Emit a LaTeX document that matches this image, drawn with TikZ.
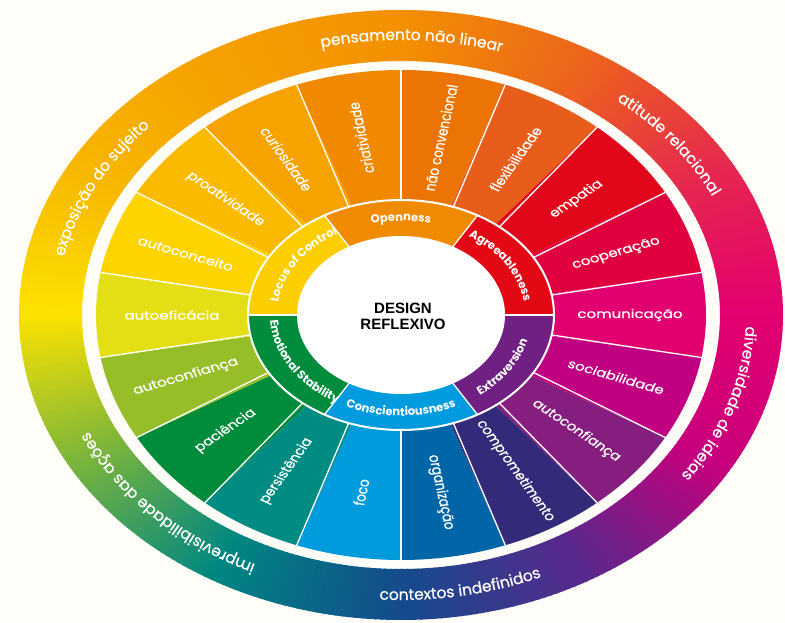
\documentclass[tikz,border=0pt]{standalone}
\usepackage{fontspec}
\setmainfont{Poppins}
\newfontfamily\labfont{Poppins}[FakeBold=0.6]
\newfontfamily\headfont{Liberation Sans}
\usetikzlibrary{decorations.text}

\begin{document}
\begin{tikzpicture}[
  x=1pt,y=1pt,
  seglab/.style={text=white,inner sep=0pt,font=\labfont\fontsize{15}{15}\selectfont},
  sep/.style={draw=white,line width=1.3pt},
  arclab/.style={decorate,decoration={text along path,text align=center,text color=white}}]

  \definecolor{paper}{RGB}{254,253,248}
  % outer band, one stop every 30 degrees
  \definecolor{ring0}{RGB}{228,0,112}
  \definecolor{ring30}{RGB}{230,40,78}
  \definecolor{ring60}{RGB}{236,100,28}
  \definecolor{ring90}{RGB}{243,144,0}
  \definecolor{ring120}{RGB}{245,160,0}
  \definecolor{ring150}{RGB}{247,182,0}
  \definecolor{ring180}{RGB}{252,226,0}
  \definecolor{ringm150}{RGB}{120,180,60}
  \definecolor{ringm120}{RGB}{0,135,130}
  \definecolor{ringm90}{RGB}{20,75,140}
  \definecolor{ringm60}{RGB}{90,40,140}
  \definecolor{ringm30}{RGB}{200,0,125}
  % traits
  \definecolor{openc}{RGB}{240,138,0}
  \definecolor{agreec}{RGB}{226,8,20}
  \definecolor{extrac}{RGB}{112,32,130}
  \definecolor{consc}{RGB}{0,155,222}
  \definecolor{emotc}{RGB}{0,140,60}
  \definecolor{locusc}{RGB}{252,206,0}
  % skills
  \definecolor{criat}{RGB}{241,137,0}
  \definecolor{naoconv}{RGB}{236,116,4}
  \definecolor{flex}{RGB}{232,93,26}
  \definecolor{empat}{RGB}{226,6,26}
  \definecolor{coop}{RGB}{224,0,62}
  \definecolor{comun}{RGB}{226,0,112}
  \definecolor{socia}{RGB}{192,0,128}
  \definecolor{autoconfB}{RGB}{134,30,128}
  \definecolor{compro}{RGB}{52,42,122}
  \definecolor{organ}{RGB}{0,102,168}
  \definecolor{foco}{RGB}{0,155,220}
  \definecolor{persist}{RGB}{0,140,130}
  \definecolor{pacien}{RGB}{0,140,58}
  \definecolor{autoconfA}{RGB}{150,190,40}
  \definecolor{autoefic}{RGB}{228,222,20}
  \definecolor{autoconc}{RGB}{253,212,0}
  \definecolor{proativ}{RGB}{250,186,0}
  \definecolor{curios}{RGB}{246,162,0}

  \useasboundingbox (0,0) rectangle (785,623);
  \fill[paper] (0,0) rectangle (785,623);

  \begin{scope}[shift={(401,308)}]
  % ================= outer band =================
  \foreach \a/\ca/\cb in {-180/ring180/ringm150,-150/ringm150/ringm120,-120/ringm120/ringm90,
      -90/ringm90/ringm60,-60/ringm60/ringm30,-30/ringm30/ring0,0/ring0/ring30,30/ring30/ring60,
      60/ring60/ring90,90/ring90/ring120,120/ring120/ring150,150/ring150/ring180}
    \foreach \k in {0,...,29} {
      \pgfmathtruncatemacro\p{(10*\k+5)/3}
      \pgfmathsetmacro\sa{\a+\k}
      \pgfmathsetmacro\ea{\sa+1.25}
      \fill[\cb!\p!\ca] (\sa:319pt and 254pt) arc[start angle=\sa,end angle=\ea,x radius=319pt,y radius=254pt]
        -- (\ea:382pt and 305pt) arc[start angle=\ea,end angle=\sa,x radius=382pt,y radius=305pt] -- cycle;
    }

  % ================= skills =================
  \foreach \a/\col in {100/criat,80/naoconv,60/flex,40/empat,20/coop,0/comun,-20/socia,-40/autoconfB,
      -60/compro,-80/organ,-100/foco,-120/persist,-140/pacien,-160/autoconfA,180/autoefic,
      160/autoconc,140/proativ,120/curios}
    \fill[\col] (0,0) -- (\a-10:305pt and 245pt)
      arc[start angle=\a-10,end angle=\a+10,x radius=305pt,y radius=245pt] -- cycle;

  % ================= traits =================
  \foreach \a/\col in {90/openc,30/agreec,-30/extrac,-90/consc,-150/emotc,150/locusc}
    \fill[\col] (0,0) -- (\a-30:153pt and 115pt)
      arc[start angle=\a-30,end angle=\a+30,x radius=153pt,y radius=115pt] -- cycle;

  \fill[white] (0,0) ellipse[x radius=104pt,y radius=79pt];

  % white rules
  \foreach \a in {10,30,...,350}
    \draw[sep] (\a:153pt and 115pt) -- (\a:305pt and 245pt);
  \foreach \a in {0,60,...,300}
    \draw[sep] (\a:104pt and 79pt) -- (\a:153pt and 115pt);
  \draw[sep,line width=2pt] (0,0) ellipse[x radius=153pt,y radius=115pt];

  % skill labels, read outwards on the right, inwards on the left
  \foreach \a/\txt [count=\i] in {100/criatividade,80/não convencional,60/flexibilidade,40/empatia,
      20/cooperação,0/comunicação,-20/sociabilidade,-40/autoconfiança,-60/comprometimento,
      -80/organização,-100/foco,-120/persistência,-140/paciência,-160/autoconfiança,
      180/autoeficácia,160/autoconceito,140/proatividade,120/curiosidade} {
    \pgfmathsetmacro\rot{(\a>101 || \a<-90) ? \a+180 : \a}
    \node[seglab,yscale=0.8,rotate=\rot] (skill\i) at (\a:229pt and 180pt) {\txt};
  }

  % trait names on the inner band
  \begingroup
  \fontsize{11.5}{11.5}\selectfont\bfseries
  \foreach \a/\txt in {90/Openness,29/Agreeableness,150/Locus of Control}
    \path[arclab,decoration={text/.expanded=\txt}] (\a+55:124pt and 94pt)
      arc[start angle=\a+55,end angle=\a-55,x radius=124pt,y radius=94pt];
  \foreach \a/\txt in {-30/Extraversion,-90/Conscientiousness,-151/Emotional Stability}
    \path[arclab,decoration={text/.expanded=\txt}] (\a-55:131pt and 101pt)
      arc[start angle=\a-55,end angle=\a+55,x radius=131pt,y radius=101pt];
  \endgroup

  % outer band captions
  \begingroup
  \labfont\fontsize{15.5}{15.5}\selectfont
  \foreach \a/\txt in {88/pensamento não linear,35/atitude relacional,-17/diversidade de ideias,
      -138/imprevisibilidade das ações,155/exposição do sujeito}
    \path[arclab,decoration={text/.expanded=\txt}] (\a+50:345pt and 275pt)
      arc[start angle=\a+50,end angle=\a-50,x radius=345pt,y radius=275pt];
  \path[arclab,decoration={text=contextos indefinidos}] (-129:356pt and 285pt)
    arc[start angle=-129,end angle=-29,x radius=356pt,y radius=285pt];
  \endgroup

  \node[font=\headfont\bfseries\fontsize{15}{16}\selectfont,align=center] (hub) at (2,-1) {DESIGN\\REFLEXIVO};
  \end{scope}
\end{tikzpicture}
\end{document}
